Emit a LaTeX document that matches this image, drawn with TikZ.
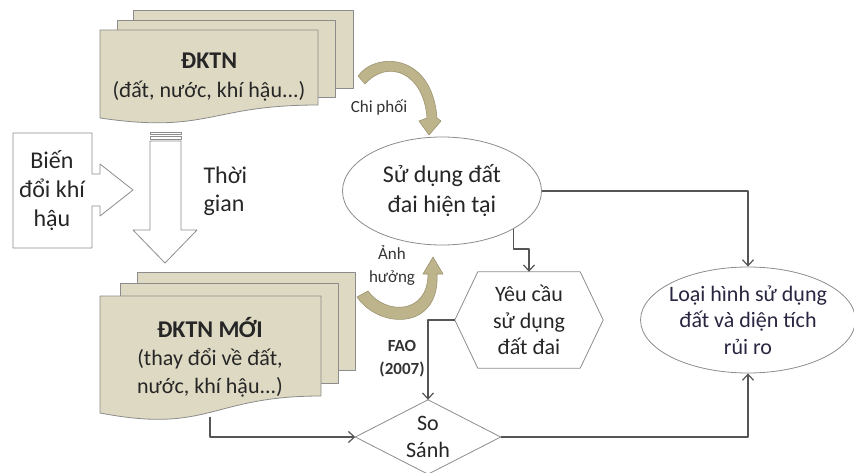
\documentclass[tikz,border=0pt]{standalone}
\usepackage{fontspec}
\setmainfont{Carlito}
\usetikzlibrary{arrows.meta,calc,shapes.geometric}
\definecolor{sheetfill}{HTML}{DDD9C3}
\definecolor{edgegray}{HTML}{8C8C8C}
\definecolor{linegray}{HTML}{555555}
\definecolor{tanfill}{HTML}{BDB48C}
\definecolor{tanedge}{HTML}{9C9470}
\definecolor{risktext}{HTML}{2A2540}
\tikzset{
	sheet/.style={draw=edgegray,fill=sheetfill,line width=0.8pt},
	outline/.style={draw=edgegray,fill=white,line width=0.8pt},
	conn/.style={draw=linegray,line width=1.2pt,->},
	bendarrow/.style={fill=tanfill,draw=tanedge,line width=0.6pt},
	big/.style={font=\fontsize{24}{30}\selectfont,align=center,text=black!85},
	mid/.style={font=\fontsize{22}{26.5}\selectfont,align=center,text=black!85},
	small/.style={font=\fontsize{17}{23}\selectfont,align=center,text=black!80},
}
\begin{document}
\begin{tikzpicture}[x=1pt,y=-1pt,>={Straight Barb[length=6pt,width=11pt]},line join=round]
	\useasboundingbox (0,0) rectangle (854,473);
	
	% ĐKTN
	\draw[sheet] (133,10) rectangle (353,88);
	\draw[sheet] (117,20) rectangle (335,97);
	\draw[sheet] (100,30) -- (318,30) -- (318,105) .. controls (209,105) and (209,134) .. (100,118) -- cycle;
	\node[big,font=\fontsize{24}{29}\selectfont] (dktn) at (209,77) {\textbf{ĐKTN}\\{\fontsize{22}{26}\selectfont(đất, nước, khí hậu...)}};
	
	% ĐKTN MỚI
	\draw[sheet] (137,272) rectangle (355,370);
	\draw[sheet] (120,283) rectangle (338,383);
	\draw[sheet] (100,296) -- (321,296) -- (321,396) .. controls (210,396) and (210,434) .. (100,413) -- cycle;
	\node[big,font=\fontsize{24}{28}\selectfont] (dktnmoi) at (210,357) {\textbf{ĐKTN MỚI}\\{\fontsize{22}{27}\selectfont(thay đổi về đất,}\\{\fontsize{22}{27}\selectfont nước, khí hậu...)}};
	\coordinate (moib) at (210,417);
	
	% Biến đổi khí hậu
	\draw[outline] (13,133) -- (92,133) -- (92,174) -- (100,174) -- (100,164) -- (133,190)
		-- (100,216) -- (100,206) -- (92,206) -- (92,248) -- (13,248) -- cycle;
	\node[big,font=\fontsize{24}{29}\selectfont] (bdkh) at (52,191) {Biến\\đổi khí\\hậu};
	
	% Thời gian
	\draw[outline] (150,132) rectangle (181,134.5);
	\draw[outline] (150,136.5) rectangle (181,139);
	\draw[outline] (150,141) -- (181,141) -- (181,230) -- (197,230) -- (165,263) -- (133,230) -- (150,230) -- cycle;
	\node[big,align=left,anchor=west,font=\fontsize{24}{28}\selectfont] (tg) at (200,191) {Thời\\gian};
	
	% mui ten cong
	\draw[bendarrow] (358,76) .. controls (375,52) and (432,52) .. (437,118) -- (441,121) -- (429,135)
		-- (419,121) -- (427,118) .. controls (424,73) and (388,58) .. (365,84) -- cycle;
	\node[small] (chiphoi) at (379,107) {Chi phối};
	\draw[bendarrow] (357,297) .. controls (380,330) and (440,330) .. (437,274) -- (443,274) -- (433,257)
		-- (423,274) -- (428,274) .. controls (428,315) and (385,315) .. (368,291) -- cycle;
	\node[small] (anhhuong) at (392,265) {Ảnh\\hưởng};
	\node[small,font=\fontsize{17}{23}\bfseries] (fao) at (402,359) {FAO\\(2007)};
	
	% cac hinh ben phai
	\node[big,draw=edgegray,fill=white,line width=0.8pt,ellipse,minimum width=199pt,minimum height=108pt,inner sep=0pt] (use) at (442,191) {Sử dụng đất\\đai hiện tại};
	\node[mid,minimum width=148pt,minimum height=96pt,inner sep=0pt] (req) at (529,320) {Yêu cầu\\sử dụng\\đất đai};
	\draw[draw=edgegray,line width=0.8pt] ($(req.north west)+(23,0)$) -- ($(req.north east)+(-23,0)$) -- (req.east)
		-- ($(req.south east)+(-23,0)$) -- ($(req.south west)+(23,0)$) -- (req.west) -- cycle;
	\node[mid,text=risktext,draw=edgegray,fill=white,line width=0.8pt,ellipse,minimum width=211pt,minimum height=106pt,inner sep=-3pt] (risk) at (748,320) {Loại hình sử dụng\\đất và diện tích\\rủi ro};
	\node[mid,font=\fontsize{22}{27}\selectfont,minimum width=145pt,minimum height=74pt,inner sep=0pt] (cmp) at (428,437) {So\\Sánh};
	\draw[draw=edgegray,line width=0.8pt] (cmp.north) -- (cmp.east) -- (cmp.south) -- (cmp.west) -- cycle;
	
	% connectors
	\draw[conn] (use.east) -| (risk.north);
	\draw[conn] (use.-28) -- ++(0,20) -| (req.north);
	\draw[conn] (req.west) -| (cmp.north);
	\draw[conn] (moib) |- (cmp.west);
	\draw[conn] (cmp.east) -| (risk.south);
\end{tikzpicture}
\end{document}
